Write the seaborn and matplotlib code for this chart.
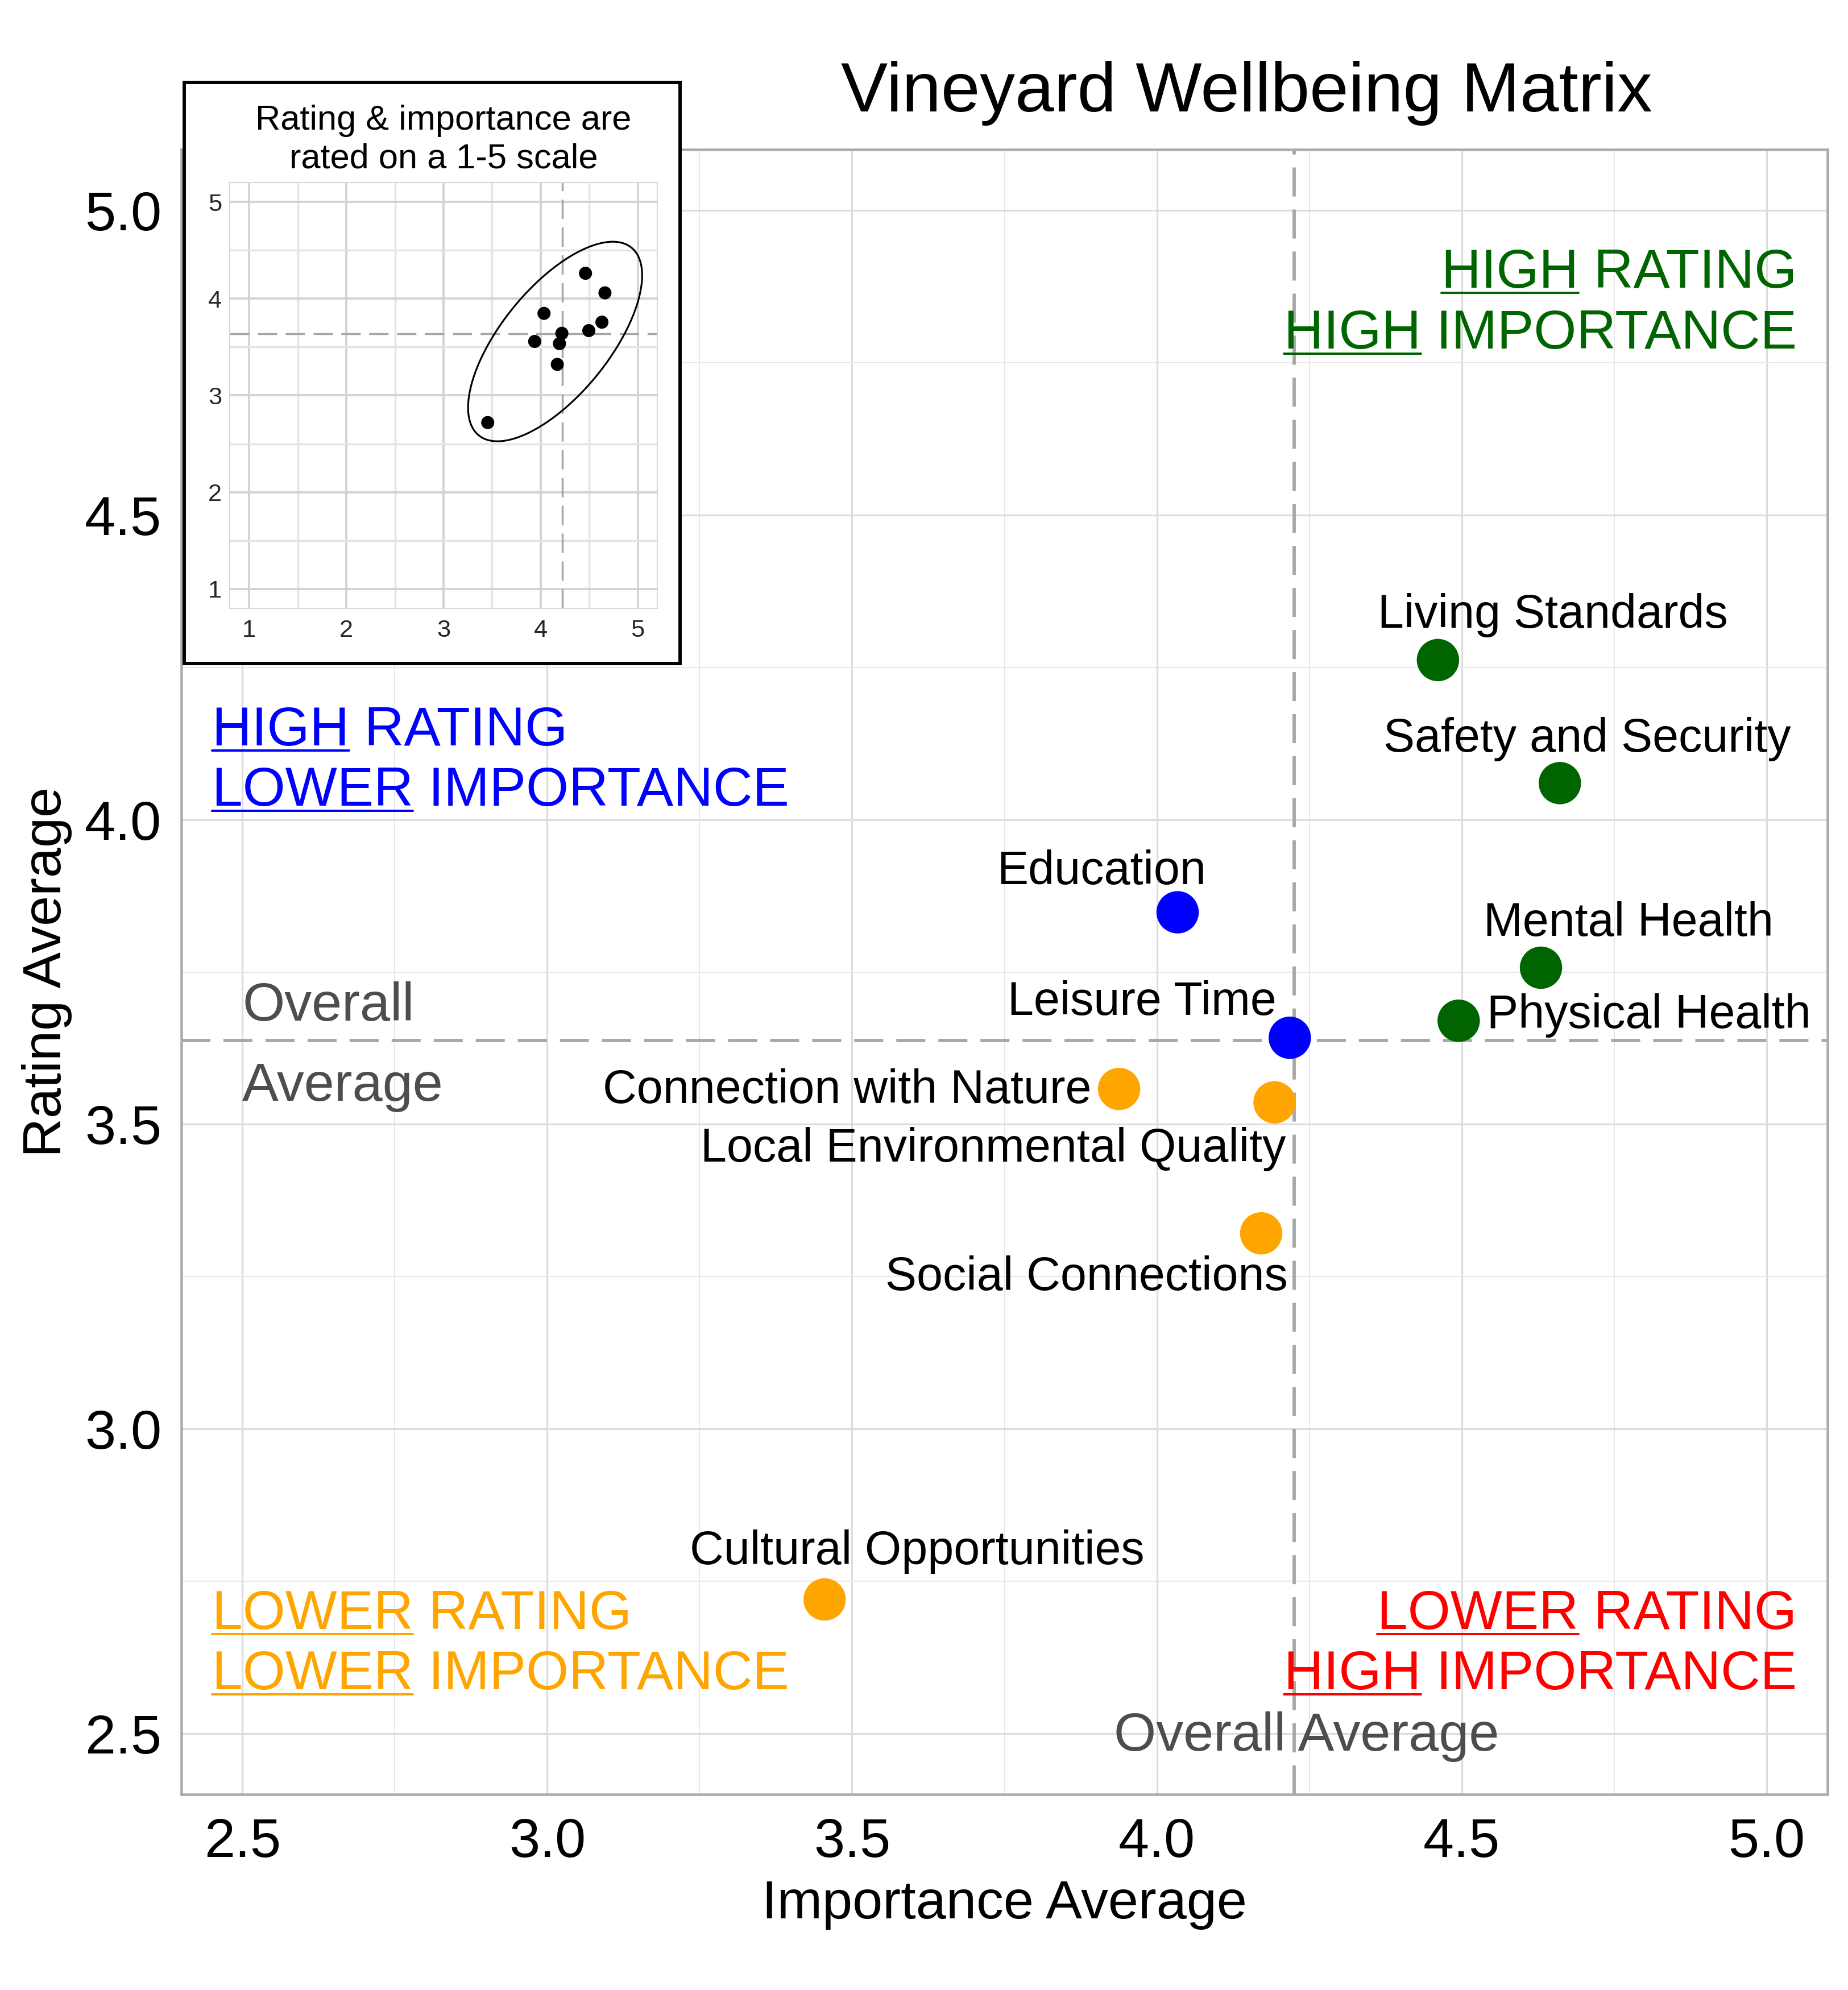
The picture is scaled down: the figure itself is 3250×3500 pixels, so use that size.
import numpy as np
import pandas as pd
import matplotlib
matplotlib.use('Agg')
import matplotlib.pyplot as plt
import seaborn as sns
from matplotlib.ticker import MultipleLocator, FormatStrFormatter

# --- data ---
categories = ['Living Standards', 'Safety and Security', 'Education', 'Mental Health',
              'Physical Health', 'Leisure Time', 'Connection with Nature',
              'Local Environmental Quality', 'Social Connections', 'Cultural Opportunities']
importance = [4.461, 4.661, 4.034, 4.630, 4.495, 4.218, 3.938, 4.193, 4.171, 3.455]
rating = [4.262, 4.060, 3.848, 3.757, 3.670, 3.642, 3.558, 3.536, 3.321, 2.720]

inset_ticks = [1, 2, 3, 4, 5]

title = 'Vineyard Wellbeing Matrix'
inset_title = ['Rating & importance are', 'rated on a 1-5 scale']

# --- styling / label placement (offsets in points, baseline anchored) ---
label_style = {
    'Living Standards': (58.2, 16.5, 'center'),
    'Safety and Security': (13.7, 16.0, 'center'),
    'Education': (-38.6, 14.3, 'center'),
    'Mental Health': (44.2, 16.2, 'center'),
    'Physical Health': (14.3, -3.8, 'left'),
    'Leisure Time': (-6.7, 11.5, 'right'),
    'Connection with Nature': (-13.9, -7.2, 'right'),
    'Local Environmental Quality': (5.7, -30.0, 'right'),
    'Social Connections': (13.6, -28.7, 'right'),
    'Cultural Opportunities': (46.9, 17.8, 'center'),
}

quadrants = {
    'hr_hi': dict(color='#006400', x=5.05, ha='right', ys=(4.873, 4.773),
                  lines=[('HIGH', ' RATING'), ('HIGH', ' IMPORTANCE')]),
    'hr_li': dict(color='#0000FF', x=2.45, ha='left', ys=(4.122, 4.023),
                  lines=[('HIGH', ' RATING'), ('LOWER', ' IMPORTANCE')]),
    'lr_li': dict(color='#FFA500', x=2.45, ha='left', ys=(2.672, 2.573),
                  lines=[('LOWER', ' RATING'), ('LOWER', ' IMPORTANCE')]),
    'lr_hi': dict(color='#FF0000', x=5.05, ha='right', ys=(2.672, 2.573),
                  lines=[('LOWER', ' RATING'), ('HIGH', ' IMPORTANCE')]),
}

sns.set_theme(style='white')
plt.rcParams['font.family'] = ['Liberation Sans', 'DejaVu Sans']
plt.rcParams['lines.scale_dashes'] = False

W, H, DPI = 3250, 3500, 250
fig = plt.figure(figsize=(W / DPI, H / DPI), dpi=DPI)
fig.patch.set_facecolor('white')

df = pd.DataFrame({'category': categories, 'importance': importance, 'rating': rating})
mean_imp = df['importance'].mean()
mean_rat = df['rating'].mean()
df['quadrant'] = np.where(df['rating'] >= mean_rat, 'hr', 'lr')
df['quadrant'] = df['quadrant'] + np.where(df['importance'] >= mean_imp, '_hi', '_li')
palette = {k: v['color'] for k, v in quadrants.items()}

# --- main axes ---
ax = fig.add_axes([319 / W, 1 - 3156 / H, 2895 / W, 2893 / H])
ax.set_xlim(2.4, 5.1)
ax.set_ylim(2.4, 5.1)
ax.set_axisbelow(True)
ax.xaxis.set_major_locator(MultipleLocator(0.5))
ax.yaxis.set_major_locator(MultipleLocator(0.5))
ax.xaxis.set_minor_locator(MultipleLocator(0.25))
ax.yaxis.set_minor_locator(MultipleLocator(0.25))
ax.xaxis.set_major_formatter(FormatStrFormatter('%.1f'))
ax.yaxis.set_major_formatter(FormatStrFormatter('%.1f'))
ax.grid(which='major', color='#DCDCDC', lw=0.9)
ax.grid(which='minor', color='#E8E8E8', lw=0.6)
ax.tick_params(axis='x', which='both', length=0, pad=11.5, labelsize=28, labelcolor='black')
ax.tick_params(axis='y', which='both', length=0, pad=10, labelsize=28, labelcolor='black')
for sp in ax.spines.values():
    sp.set_color('#ABABAB')
    sp.set_linewidth(1.3)

ax.axvline(mean_imp, color='#A8A8A8', lw=1.7, dashes=(14.7, 6.6), zorder=2)
ax.axhline(mean_rat, color='#A8A8A8', lw=1.7, dashes=(14.7, 6.6), zorder=2)

sns.scatterplot(data=df, x='importance', y='rating', hue='quadrant', palette=palette,
                s=460, edgecolor='none', legend=False, ax=ax, zorder=3)

ax.set_xlabel('Importance Average', fontsize=27.5, color='black')
ax.set_ylabel('Rating Average', fontsize=27.5, color='black')
ax.xaxis.set_label_coords(0.5, (3156 - 3305) / 2893)
ax.yaxis.set_label_coords((127 - 319) / 2895, 0.5)

for name, xi, yi in zip(categories, importance, rating):
    dx, dy, ha = label_style[name]
    ax.annotate(name, (xi, yi), xytext=(dx, dy), textcoords='offset points',
                ha=ha, va='baseline', fontsize=23.8, color='black', zorder=4)

# overall average labels
avg_grey = '#4D4D4D'
ax.annotate('Overall', (2.5, mean_rat), xytext=(0, 10), textcoords='offset points',
            ha='left', va='baseline', fontsize=27.5, color=avg_grey)
ax.annotate('Average', (2.5, mean_rat), xytext=(0, -30.5), textcoords='offset points',
            ha='left', va='baseline', fontsize=27.5, color=avg_grey)
ax.annotate('Overall Average', (mean_imp, 2.4715), xytext=(6, 0), textcoords='offset points',
            ha='center', va='baseline', fontsize=27.5, color=avg_grey)

# quadrant labels with underlined first word
underline_jobs = []
for key, q in quadrants.items():
    for (word, rest), yq in zip(q['lines'], q['ys']):
        t = ax.text(q['x'], yq, word + rest, ha=q['ha'], va='baseline',
                    fontsize=27.8, color=q['color'])
        underline_jobs.append((t, word, q['color']))

# --- title ---
fig.text(2192 / W, 1 - 196 / H, title, ha='center', va='baseline', fontsize=35.5, color='black')

# --- inset ---
ax_box = fig.add_axes([324 / W, 1 - 1167 / H, (1196 - 324) / W, (1167 - 145) / H])
ax_box.set_zorder(5)
ax_box.set_facecolor('white')
ax_box.set_xticks([])
ax_box.set_yticks([])
for sp in ax_box.spines.values():
    sp.set_color('black')
    sp.set_linewidth(1.7)

ax_in = fig.add_axes([404 / W, 1 - 1070 / H, 752 / W, 749 / H])
ax_in.set_zorder(6)
ax_in.set_facecolor('white')
ax_in.set_xlim(0.8, 5.2)
ax_in.set_ylim(0.8, 5.2)
ax_in.set_axisbelow(True)
ax_in.set_xticks(inset_ticks)
ax_in.set_yticks(inset_ticks)
ax_in.xaxis.set_minor_locator(MultipleLocator(0.5))
ax_in.yaxis.set_minor_locator(MultipleLocator(0.5))
ax_in.grid(which='major', color='#D2D2D2', lw=1.1)
ax_in.grid(which='minor', color='#E4E4E4', lw=1.0)
ax_in.tick_params(axis='x', which='both', length=0, pad=5.5, labelsize=12.5)
ax_in.tick_params(axis='y', which='both', length=0, pad=4, labelsize=12.5)
for sp in ax_in.spines.values():
    sp.set_color('#D8D8D8')
    sp.set_linewidth(0.6)

ax_in.axvline(mean_imp, color='#A6A6A6', lw=1.0, dashes=(9.8, 4.3))
ax_in.axhline(mean_rat, color='#A6A6A6', lw=1.0, dashes=(9.8, 4.3))
sns.scatterplot(data=df, x='importance', y='rating', color='black', s=44,
                edgecolor='none', legend=False, ax=ax_in, zorder=3)
ax_in.set_xlabel('')
ax_in.set_ylabel('')


def enclosing_ellipse(points, tol=1e-5, max_iter=5000):
    # minimum-area enclosing ellipse (Khachiyan)
    n, d = points.shape
    q = np.vstack([points.T, np.ones(n)])
    u = np.full(n, 1.0 / n)
    for _ in range(max_iter):
        x = (q * u) @ q.T
        m = np.einsum('ij,ji->i', q.T @ np.linalg.inv(x), q)
        j = np.argmax(m)
        step = (m[j] - d - 1) / ((d + 1) * (m[j] - 1))
        new_u = (1 - step) * u
        new_u[j] += step
        err = np.linalg.norm(new_u - u)
        u = new_u
        if err < tol:
            break
    c = points.T @ u
    a = np.linalg.inv((points.T * u) @ points - np.outer(c, c)) / d
    return a, c


xy = df[['importance', 'rating']].to_numpy()
shape, center = enclosing_ellipse(xy)
evals, evecs = np.linalg.eigh(shape)
semi = 1 / np.sqrt(evals) + np.array([0.16, 0.28])   # padding: major, minor
theta = np.linspace(0, 2 * np.pi, 240)
circle = np.column_stack([np.cos(theta), np.sin(theta)])
ell = center + (circle * semi) @ evecs.T
ax_in.plot(ell[:, 0], ell[:, 1], color='black', lw=0.9, zorder=4)

fig.text(780 / W, 1 - 228 / H, inset_title[0], ha='center', va='baseline',
         fontsize=17.7, color='black', zorder=10)
fig.text(780 / W, 1 - 296 / H, inset_title[1], ha='center', va='baseline',
         fontsize=17.7, color='black', zorder=10)

# --- underline pass (needs a renderer for text widths) ---
fig.canvas.draw()
renderer = fig.canvas.get_renderer()
inv = ax.transData.inverted()
for t, word, color in underline_jobs:
    bb = t.get_window_extent(renderer)
    w, _, _ = renderer.get_text_width_height_descent(word, t.get_fontproperties(), ismath=False)
    _, y_base = ax.transData.transform(t.get_position())
    y_u = y_base - 9
    (x0, y0), (x1, _) = inv.transform([(bb.x0, y_u), (bb.x0 + w, y_u)])
    ax.plot([x0, x1], [y0, y0], color=color, lw=1.15, solid_capstyle='round', clip_on=False)

fig.savefig('out.png', dpi=DPI, facecolor='white')
